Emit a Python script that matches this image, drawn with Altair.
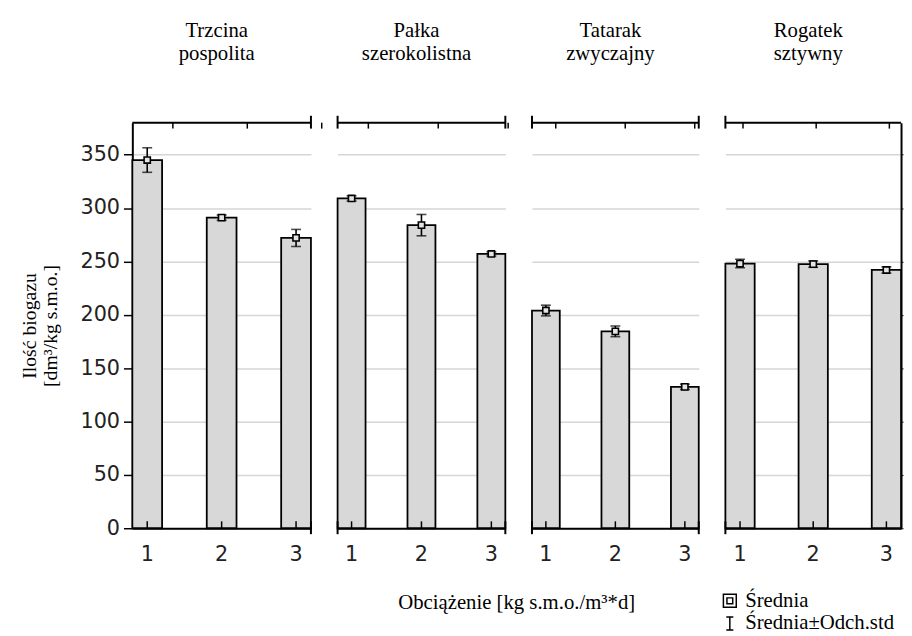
import altair as alt
import pandas as pd

# ---- data ----
loads = ["1", "2", "3"]
species = [["Trzcina", "pospolita"], ["Pałka", "szerokolistna"],
           ["Tatarak", "zwyczajny"], ["Rogatek", "sztywny"]]
means = [[345, 291, 272], [309, 284, 257], [204, 184.5, 132.5], [248, 247.5, 242]]
sds = [[11.5, 2.5, 8], [2.5, 10, 2], [5, 5, 2.5], [4, 3, 3]]
y_ticks = [0, 50, 100, 150, 200, 250, 300, 350]
legend_labels = ["Średnia", "Średnia±Odch.std"]
x_title = "Obciążenie [kg s.m.o./m³*d]"
y_title = ["Ilość biogazu", "[dm³/kg s.m.o.]"]

# ---- layout / style ----
widths = [181, 170, 169, 178]
H = 411
SPACING = 27
top_tick_offsets = [26, 17, 10, 3]
BAR_FILL = "#d8d8d8"
GRID = "#d6d6d6"
SERIF = "Liberation Serif"
SANS = "DejaVu Sans"
SERIF_SIZE = 21
NUM_SIZE = 21

legend_paths = [
    "M-1,-1H1V1H-1Z M-0.45,-0.45H0.45V0.45H-0.45Z",
    "M-0.55,-1H0.55M0,-1V1M-0.55,1H0.55",
]


def y_axis(i):
    common = dict(values=y_ticks, grid=True, gridColor=GRID, gridWidth=1.5)
    if i == 0:
        return alt.Axis(orient="left", domain=True, domainColor="black", domainWidth=2,
                        ticks=True, tickSize=9, tickColor="black", tickWidth=1.5,
                        labels=True, labelFont=SANS, labelFontSize=NUM_SIZE,
                        labelColor="#222", labelPadding=4, title=y_title,
                        titleFont=SERIF, titleFontSize=20, titleFontWeight="normal",
                        titleColor="black", titleX=-104, titleY=H / 2, titleAngle=270,
                        titleAlign="center", titleBaseline="middle",
                        titleLineHeight=21, **common)
    if i == 3:
        return alt.Axis(orient="right", domain=True, domainColor="black", domainWidth=2,
                        ticks=True, tickSize=2, tickColor="black", labels=False,
                        title=None, **common)
    return alt.Axis(domain=False, ticks=False, labels=False, title=None, **common)


def x_axis(i):
    kw = dict(orient="bottom", domain=True, domainColor="black", domainWidth=2,
              ticks=False, labels=True, labelFont=SANS, labelFontSize=NUM_SIZE,
              labelColor="#222", labelPadding=16, labelAngle=0, grid=False)
    if i == 1:
        return alt.Axis(title=x_title, titleFont=SERIF, titleFontSize=SERIF_SIZE,
                        titleFontWeight="normal", titleColor="black",
                        titleX=520 - 339, titleY=75, titleAlign="center",
                        titleBaseline="middle", **kw)
    return alt.Axis(title=None, **kw)


panels = []
for i in range(4):
    W = widths[i]
    df = pd.DataFrame({
        "load": loads,
        "mean": means[i],
        "lo": [m - s for m, s in zip(means[i], sds[i])],
        "hi": [m + s for m, s in zip(means[i], sds[i])],
    })
    base = alt.Chart(df)
    X = alt.X("load:N", sort=loads,
              scale=alt.Scale(paddingInner=0.6, paddingOuter=0), axis=x_axis(i))
    yscale = alt.Scale(domain=[0, 380], nice=False, zero=True)

    def Y(field):
        return alt.Y(field, type="quantitative", scale=yscale, axis=y_axis(i))

    bars = base.mark_bar(fill=BAR_FILL, stroke="black", strokeWidth=1.8).encode(
        x=X, y=Y("mean"))
    err = base.mark_errorbar(
        ticks={"size": 10, "thickness": 1.6, "color": "black"},
        rule={"strokeWidth": 1.6, "color": "black"},
    ).encode(x=X, y=Y("lo"), y2="hi:Q")
    pts = base.mark_point(shape="square", size=40, filled=True, fill="#e4e4e4",
                          stroke="black", strokeWidth=1.6, opacity=1).encode(
        x=X, y=Y("mean"))
    bot_ticks = base.mark_rule(color="black", strokeWidth=1.5).encode(
        x=X, y=alt.value(H), y2=alt.value(H - 7))
    top_ticks = base.mark_rule(color="black", strokeWidth=1.5,
                               xOffset=top_tick_offsets[i]).encode(
        x=X, y=alt.value(0), y2=alt.value(6))

    one = alt.Chart(pd.DataFrame({"k": [0]}))
    deco = [one.mark_rule(color="black", strokeWidth=2).encode(
        x=alt.value(0), x2=alt.value(W), y=alt.value(0))]
    cap_x = []
    if i > 0:
        cap_x.append(0)
    if i < 3:
        cap_x.append(W)
    for cx in cap_x:
        for yy in (0, H):
            deco.append(one.mark_rule(color="black", strokeWidth=2).encode(
                x=alt.value(cx), y=alt.value(yy - 7), y2=alt.value(yy + 6)))

    layers = [bars, bot_ticks, top_ticks, err, pts] + deco
    if i == 3:
        leg = alt.Chart(pd.DataFrame({"lab": legend_labels})).mark_point(opacity=0).encode(
            shape=alt.Shape("lab:N", sort=legend_labels,
                            scale=alt.Scale(domain=legend_labels, range=legend_paths),
                            legend=alt.Legend(title=None, orient="none",
                                              legendX=726 - 131, legendY=591 - 117,
                                              labelFont=SERIF, labelFontSize=SERIF_SIZE,
                                              labelColor="black", symbolSize=170,
                                              symbolStrokeWidth=1.5,
                                              symbolStrokeColor="black",
                                              symbolFillColor=BAR_FILL,
                                              symbolOpacity=1, rowPadding=1,
                                              labelOffset=5)))
        layers.append(leg)

    panel = alt.layer(*layers).properties(
        width=W, height=H,
        title=alt.TitleParams(text=species[i], font=SERIF, fontSize=SERIF_SIZE,
                              fontWeight="normal", color="black", anchor="middle",
                              frame="group", dx=-5, offset=52, lineHeight=23),
    )
    panels.append(panel)

chart = alt.hconcat(*panels, spacing=SPACING, bounds="flush").properties(
    padding={"left": 12, "top": 8, "right": 0, "bottom": 0}
).configure_view(stroke=None).configure_title(
    font=SERIF, fontWeight="normal"
).configure_legend(
    labelFont=SERIF
)

chart.save("out.html", embed_options={"renderer": "svg", "actions": False})
